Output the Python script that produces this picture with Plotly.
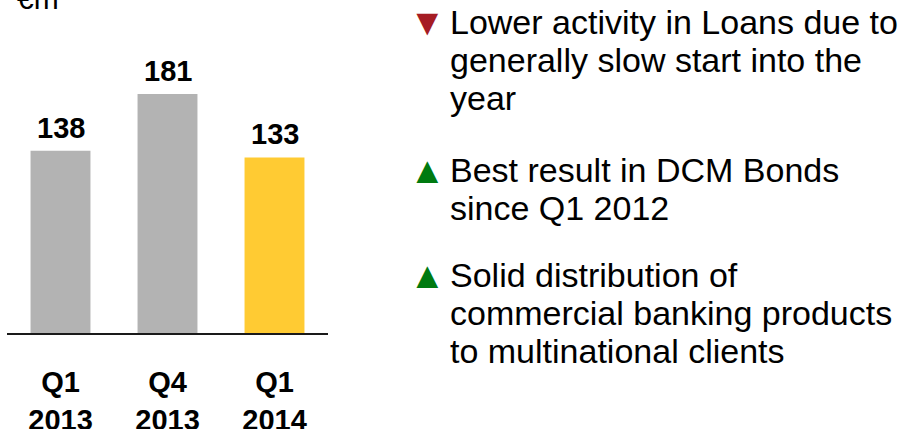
import plotly.graph_objects as go

# chart data
quarters = ["Q1<br>2013", "Q4<br>2013", "Q1<br>2014"]
revenues = [138, 181, 133]
bar_colors = ["#B3B3B3", "#B3B3B3", "#FFCB33"]
unit_label = "€m"

# commentary on the right
bullets = [
    ("▼", "#A51C24", ["Lower activity in Loans due to", "generally slow start into the", "year"]),
    ("▲", "#007A10", ["Best result in DCM Bonds", "since Q1 2012"]),
    ("▲", "#007A10", ["Solid distribution of", "commercial banking products", "to multinational clients"]),
]
# baseline (px from top) of the first line of each bullet
bullet_tops = [34, 182, 287]
line_pitch = 38

W, H = 920, 429
FONT = "Liberation Sans, Arial, sans-serif"
TXT = 34

fig = go.Figure()
fig.add_trace(go.Bar(
    x=quarters,
    y=revenues,
    marker=dict(color=bar_colors, line=dict(width=0)),
    width=0.56,
    hoverinfo="skip",
))

# value labels above the bars
annotations = [dict(
    text=f"<b>{v}</b>", x=q, y=v, xref="x", yref="y",
    xanchor="center", yanchor="bottom", yshift=5, showarrow=False,
    font=dict(family=FONT, size=29, color="black"),
) for q, v in zip(quarters, revenues)]

annotations.append(dict(
    text=unit_label, x=15 / W, y=1 - 17 / H, xref="paper", yref="paper",
    xanchor="left", yanchor="bottom", showarrow=False,
    font=dict(family=FONT, size=30, color="black"),
))

for (sym, col, lines), base in zip(bullets, bullet_tops):
    annotations.append(dict(
        text=sym, x=427 / W, y=1 - (base - 12) / H, xref="paper", yref="paper",
        xanchor="center", yanchor="middle", showarrow=False,
        font=dict(family=FONT, size=37, color=col),
    ))
    for i, ln in enumerate(lines):
        b = base + i * line_pitch
        annotations.append(dict(
            text=ln, x=448 / W, y=1 - (b - 12) / H, xref="paper", yref="paper",
            xanchor="left", yanchor="middle", showarrow=False,
            font=dict(family=FONT, size=TXT, color="black"),
        ))

fig.update_layout(
    width=W, height=H,
    margin=dict(l=0, r=0, t=0, b=0),
    paper_bgcolor="white", plot_bgcolor="white",
    showlegend=False,
    xaxis=dict(
        domain=[7 / W, 328 / W], range=[-0.5, 2.5],
        showline=True, linecolor="#1a1a1a", linewidth=2,
        ticks="", showgrid=False, zeroline=False, automargin=False,
        tickfont=dict(family=FONT, size=29, color="black", weight="bold"),
        ticklabelstandoff=22,
    ),
    yaxis=dict(
        domain=[(H - 333) / H, 1], range=[0, 333 / 1.32],
        visible=False, automargin=False,
    ),
    annotations=annotations,
)

fig.write_html("out.html", config={"displayModeBar": False},
               post_script="document.body.style.margin='0';")
